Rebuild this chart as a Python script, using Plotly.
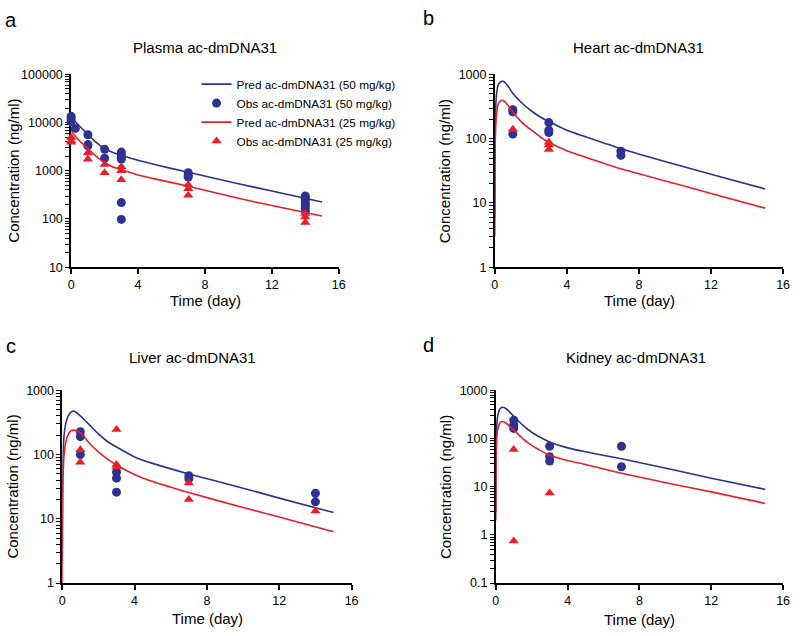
import plotly.graph_objects as go
import math

# ---------------- DATA ----------------
plasma_pred_t = [0, 0.25, 0.5, 1, 1.5, 2, 2.5, 3, 4, 5, 7, 10, 12, 15]
plasma_pred_50 = [14000, 10500, 8500, 5700, 3900, 2900, 2400, 2100, 1650, 1350, 930, 540, 380, 225]
plasma_pred_25 = [6800, 5200, 4200, 2900, 2000, 1500, 1200, 1050, 820, 680, 480, 270, 190, 115]
plasma_obs50_t = [0, 0, 0, 0.25, 1, 1, 1, 2, 2, 3, 3, 3, 3, 3, 3, 7, 7, 7, 14, 14, 14, 14, 14, 14, 14]
plasma_obs50_v = [13500, 12000, 10500, 7600, 5600, 3500, 3300, 2800, 1820, 2450, 2160, 1850, 1750, 219, 98,
                  910, 790, 740, 300, 270, 240, 210, 185, 165, 145]
plasma_obs25_t = [0, 0, 0, 1, 1, 2, 2, 3, 3, 3, 7, 7, 7, 14, 14, 14]
plasma_obs25_v = [4900, 4200, 3900, 2350, 1740, 1350, 910, 1220, 1000, 650, 515, 425, 310, 130, 110, 85]

heart_pred_t = [0, 0.03, 0.1, 0.2, 0.35, 0.5, 0.75, 1, 1.5, 2, 2.5, 3, 4, 5, 7, 10, 12, 15]
heart_pred_50 = [6, 200, 500, 700, 775, 780, 650, 510, 360, 275, 220, 185, 135, 108, 70, 40, 28, 16.5]
heart_pred_25 = [3, 100, 250, 350, 395, 390, 325, 260, 180, 138, 108, 88, 65, 52, 34, 20, 14, 8.3]
heart_obs50_t = [1, 1, 1, 3, 3, 3, 7, 7]
heart_obs50_v = [282, 261, 118, 178, 136, 125, 64, 55]
heart_obs25_t = [1, 3, 3, 3]
heart_obs25_v = [140, 88, 80, 68]

liver_pred_t = [0, 0.03, 0.1, 0.25, 0.45, 0.65, 1, 1.5, 2, 2.5, 3, 4, 5, 7, 10, 12, 15]
liver_pred_50 = [2, 60, 200, 350, 450, 475, 400, 290, 210, 160, 131, 92, 73, 50, 30, 21, 12.5]
liver_pred_25 = [1, 30, 100, 180, 230, 240, 220, 150, 110, 85, 69, 49, 38, 25.6, 15, 10.7, 6.3]
liver_obs50_t = [1, 1, 1, 3, 3, 3, 7, 7, 14, 14]
liver_obs50_v = [227, 190, 100, 53, 43, 26, 47, 42, 25, 18.4]
liver_obs25_t = [1, 1, 3, 3, 3, 7, 7, 14]
liver_obs25_v = [119, 76, 245, 70, 64, 36, 20, 13.2]

kidney_pred_t = [0, 0.03, 0.1, 0.25, 0.4, 0.6, 1, 1.5, 2, 2.5, 3, 4, 5, 7, 10, 12, 15]
kidney_pred_50 = [3, 100, 280, 420, 445, 410, 290, 190, 135, 105, 85, 64, 53, 38, 22, 15, 8.8]
kidney_pred_25 = [2, 60, 150, 215, 225, 205, 150, 100, 72, 56, 45, 35, 29, 19, 11, 7.8, 4.5]
kidney_obs50_t = [1, 1, 1, 3, 3, 3, 7, 7]
kidney_obs50_v = [240, 190, 162, 69, 42, 34, 69, 26]
kidney_obs25_t = [1, 1, 3]
kidney_obs25_v = [59, 0.75, 7.4]

panel_titles = ["Plasma ac-dmDNA31", "Heart ac-dmDNA31", "Liver ac-dmDNA31", "Kidney ac-dmDNA31"]
panel_letters = ["a", "b", "c", "d"]
series_names = ["Pred ac-dmDNA31 (50 mg/kg)", "Obs ac-dmDNA31 (50 mg/kg)",
                "Pred ac-dmDNA31 (25 mg/kg)", "Obs ac-dmDNA31 (25 mg/kg)"]
x_ticks = [0, 4, 8, 12, 16]
y_ranges = [(10, 100000), (1, 1000), (1, 1000), (0.1, 1000)]

# ---------------- STYLE ----------------
W, H = 800, 636
BLUE = "#2E3192"
RED = "#E8202A"
FONT = "Liberation Sans, Arial, sans-serif"

panels = [
    (plasma_pred_t, plasma_pred_50, plasma_pred_25, plasma_obs50_t, plasma_obs50_v, plasma_obs25_t, plasma_obs25_v),
    (heart_pred_t, heart_pred_50, heart_pred_25, heart_obs50_t, heart_obs50_v, heart_obs25_t, heart_obs25_v),
    (liver_pred_t, liver_pred_50, liver_pred_25, liver_obs50_t, liver_obs50_v, liver_obs25_t, liver_obs25_v),
    (kidney_pred_t, kidney_pred_50, kidney_pred_25, kidney_obs50_t, kidney_obs50_v, kidney_obs25_t, kidney_obs25_v),
]

boxes = [(69, 340, 69, 266), (498, 790, 69, 266), (60, 353, 392, 589), (499, 790, 392, 589)]
title_pos = [(205, 41), (644, 41), (192, 358), (641, 358)]
ytitle_pos = [(11, 167.5), (447, 167.5), (10, 490.5), (448, 490.5)]
xtitle_pos = [(205, 300), (645, 300), (207, 625), (644.5, 626)]
letter_pos = [(8, 13), (431, 11), (8, 347), (431, 346)]


def px(x):
    return x / W


def py(y):
    return 1 - y / H


fig = go.Figure()
layout = dict(
    width=W, height=H, margin=dict(l=0, r=0, t=0, b=0),
    paper_bgcolor="white", plot_bgcolor="rgba(0,0,0,0)",
    font=dict(family=FONT, color="black"),
    showlegend=True,
    legend=dict(x=px(196), y=py(64), xanchor="left", yanchor="top",
                font=dict(size=11.8, family=FONT), bgcolor="rgba(0,0,0,0)",
                tracegroupgap=0, itemwidth=30),
)
annotations = []
axis_font = dict(size=12.5, family=FONT)

for i, (pt, p50, p25, o50t, o50v, o25t, o25v) in enumerate(panels):
    n = "" if i == 0 else str(i + 1)
    xa, ya = "x" + n, "y" + n
    show = i == 0
    l, r, t, b = boxes[i]
    lo, hi = y_ranges[i]

    line_kw = dict(width=1.6, shape="spline", smoothing=0.6)
    fig.add_trace(go.Scatter(x=pt, y=p50, mode="lines", line=dict(color=BLUE, **line_kw),
                             name=series_names[0], showlegend=show, xaxis=xa, yaxis=ya))
    fig.add_trace(go.Scatter(x=o50t, y=o50v, mode="markers", marker=dict(color=BLUE, size=9, symbol="circle"),
                             name=series_names[1], showlegend=show, xaxis=xa, yaxis=ya, cliponaxis=False))
    fig.add_trace(go.Scatter(x=pt, y=p25, mode="lines", line=dict(color=RED, **line_kw),
                             name=series_names[2], showlegend=show, xaxis=xa, yaxis=ya))
    fig.add_trace(go.Scatter(x=o25t, y=o25v, mode="markers",
                             marker=dict(color=RED, size=9, symbol="triangle-up"),
                             name=series_names[3], showlegend=show, xaxis=xa, yaxis=ya, cliponaxis=False))

    yrange = [math.log10(lo), math.log10(hi)]
    dec_lo, dec_hi = int(round(yrange[0])), int(round(yrange[1]))
    tickvals, ticktext = [], []
    for k in range(dec_lo, dec_hi + 1):
        v = 10.0 ** k
        tickvals.append(v)
        ticktext.append(("%g" % v) if k < 0 else str(10 ** k))
        if k < dec_hi:
            for m in range(2, 10):
                tickvals.append(m * v)
                ticktext.append(" ")

    layout["xaxis" + n] = dict(
        domain=[px(l), px(r)], anchor=ya, range=[0, 16], tickvals=x_ticks,
        showline=True, linecolor="black", linewidth=1.6, ticks="outside", ticklen=5, tickwidth=1.5,
        tickcolor="black", showgrid=False, zeroline=False, tickfont=axis_font,
        ticklabeloverflow="allow", layer="below traces",
    )
    layout["yaxis" + n] = dict(
        domain=[py(b), py(t)], anchor=xa, type="log", range=yrange,
        tickvals=tickvals, ticktext=ticktext,
        showline=True, linecolor="black", linewidth=1.6, ticks="outside", ticklen=4, tickwidth=1.2,
        tickcolor="black", showgrid=False, zeroline=False, tickfont=axis_font,
        ticklabeloverflow="allow", layer="below traces",
    )

    tx, ty = title_pos[i]
    annotations.append(dict(text=panel_titles[i], x=px(tx), y=py(ty), xref="paper", yref="paper",
                            showarrow=False, xanchor="center", yanchor="middle", font=dict(size=15, family=FONT)))
    yx, yy = ytitle_pos[i]
    annotations.append(dict(text="Concentration (ng/ml)", x=px(yx), y=py(yy), xref="paper", yref="paper",
                            showarrow=False, textangle=-90, xanchor="center", yanchor="middle",
                            font=dict(size=15, family=FONT)))
    xx, xy = xtitle_pos[i]
    annotations.append(dict(text="Time (day)", x=px(xx), y=py(xy), xref="paper", yref="paper",
                            showarrow=False, xanchor="center", yanchor="middle", font=dict(size=15, family=FONT)))
    lx, ly = letter_pos[i]
    annotations.append(dict(text=panel_letters[i], x=px(lx), y=py(ly), xref="paper", yref="paper",
                            showarrow=False, xanchor="center", yanchor="middle", font=dict(size=20, family=FONT)))

layout["annotations"] = annotations
fig.update_layout(**layout)
fig.write_html(
    "out.html",
    config={"displayModeBar": False},
    post_script=("document.documentElement.style.margin='0';document.body.style.margin='0';"
                 "document.body.style.overflow='hidden';"),
)
